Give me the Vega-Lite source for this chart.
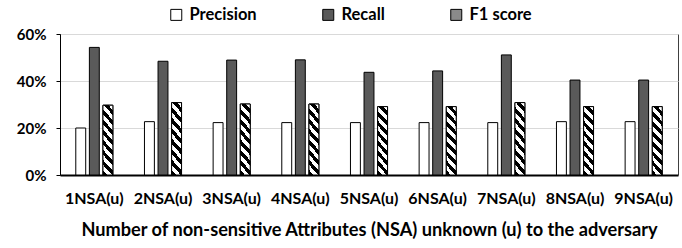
{
  "$schema": "https://vega.github.io/schema/vega-lite/v6.json",
  "width": 618,
  "height": 141,
  "autosize": {"type": "none"},
  "padding": {"left": 60, "top": 34, "right": 4, "bottom": 73},
  "config": {"font": "Lato", "view": {"stroke": "#404040", "strokeWidth": 1}},
  "data": {
    "values": [
      {"group": "1NSA(u)", "metric": "Precision", "value": 0.200},
      {"group": "1NSA(u)", "metric": "Recall", "value": 0.543},
      {"group": "1NSA(u)", "metric": "F1 score", "value": 0.297},
      {"group": "2NSA(u)", "metric": "Precision", "value": 0.227},
      {"group": "2NSA(u)", "metric": "Recall", "value": 0.484},
      {"group": "2NSA(u)", "metric": "F1 score", "value": 0.308},
      {"group": "3NSA(u)", "metric": "Precision", "value": 0.223},
      {"group": "3NSA(u)", "metric": "Recall", "value": 0.489},
      {"group": "3NSA(u)", "metric": "F1 score", "value": 0.302},
      {"group": "4NSA(u)", "metric": "Precision", "value": 0.223},
      {"group": "4NSA(u)", "metric": "Recall", "value": 0.490},
      {"group": "4NSA(u)", "metric": "F1 score", "value": 0.302},
      {"group": "5NSA(u)", "metric": "Precision", "value": 0.223},
      {"group": "5NSA(u)", "metric": "Recall", "value": 0.437},
      {"group": "5NSA(u)", "metric": "F1 score", "value": 0.291},
      {"group": "6NSA(u)", "metric": "Precision", "value": 0.223},
      {"group": "6NSA(u)", "metric": "Recall", "value": 0.443},
      {"group": "6NSA(u)", "metric": "F1 score", "value": 0.291},
      {"group": "7NSA(u)", "metric": "Precision", "value": 0.223},
      {"group": "7NSA(u)", "metric": "Recall", "value": 0.511},
      {"group": "7NSA(u)", "metric": "F1 score", "value": 0.308},
      {"group": "8NSA(u)", "metric": "Precision", "value": 0.227},
      {"group": "8NSA(u)", "metric": "Recall", "value": 0.404},
      {"group": "8NSA(u)", "metric": "F1 score", "value": 0.291},
      {"group": "9NSA(u)", "metric": "Precision", "value": 0.227},
      {"group": "9NSA(u)", "metric": "Recall", "value": 0.404},
      {"group": "9NSA(u)", "metric": "F1 score", "value": 0.291}
    ]
  },
  "encoding": {
    "x": {
      "field": "group",
      "type": "nominal",
      "sort": null,
      "scale": {"paddingInner": 0.46, "paddingOuter": 0.23},
      "axis": {
        "title": "Number of non-sensitive Attributes (NSA) unknown (u) to the adversary",
        "titleFontSize": 18.2,
        "titleFontWeight": "bold",
        "titleColor": "#000000",
        "titlePadding": 15,
        "labelAngle": 0,
        "labelFontSize": 16,
        "labelFontWeight": "bold",
        "labelColor": "#000000",
        "labelPadding": 15,
        "ticks": false,
        "domainColor": "#000000",
        "domainWidth": 2
      }
    },
    "xOffset": {
      "field": "metric",
      "type": "nominal",
      "sort": ["Precision", "Recall", "F1 score"],
      "scale": {"domain": ["Precision", "Recall", "F1 score"], "paddingInner": 0.27, "paddingOuter": 0}
    },
    "y": {
      "field": "value",
      "type": "quantitative",
      "scale": {"domain": [0, 0.6]},
      "axis": {
        "title": null,
        "format": ".0%",
        "values": [0, 0.2, 0.4, 0.6],
        "grid": true,
        "gridColor": "#d9d9d9",
        "gridWidth": 1,
        "ticks": true,
        "tickSize": 4,
        "tickColor": "#000000",
        "domainColor": "#000000",
        "labelFontSize": 15,
        "labelFontWeight": "bold",
        "labelColor": "#000000",
        "labelPadding": 10
      }
    }
  },
  "layer": [
    {
      "mark": {"type": "bar", "stroke": "black", "strokeWidth": 1},
      "encoding": {
        "fill": {
          "field": "metric",
          "type": "nominal",
          "sort": ["Precision", "Recall", "F1 score"],
          "scale": {
            "domain": ["Precision", "Recall", "F1 score"],
            "range": ["#ffffff", "#5a5a5a", "#8a8a8a"]
          },
          "legend": {
            "title": null,
            "orient": "none",
            "legendX": 108,
            "legendY": -27.5,
            "direction": "horizontal",
            "columnPadding": 63,
            "symbolType": "square",
            "symbolSize": 121,
            "symbolStrokeColor": "#000000",
            "symbolStrokeWidth": 1,
            "labelFontSize": 16.5,
            "labelFontWeight": "bold",
            "labelColor": "#000000",
            "labelOffset": 5,
            "encode": {
              "symbols": {
                "update": {
                  "stroke": {"value": "#000000"},
                  "strokeWidth": {"value": 1},
                  "opacity": {"value": 1},
                  "fillOpacity": {"value": 1},
                  "fill": {
                    "condition": {
                      "test": "datum.label === 'F1 score'",
                      "value": {
                        "gradient": "linear",
                        "x1": 0, "y1": 1, "x2": 1, "y2": 0,
                        "stops": [
                          {"offset": 0, "color": "#000000"},
                          {"offset": 0.17, "color": "#000000"},
                          {"offset": 0.17, "color": "#ffffff"},
                          {"offset": 0.37, "color": "#ffffff"},
                          {"offset": 0.37, "color": "#000000"},
                          {"offset": 0.63, "color": "#000000"},
                          {"offset": 0.63, "color": "#ffffff"},
                          {"offset": 0.83, "color": "#ffffff"},
                          {"offset": 0.83, "color": "#000000"},
                          {"offset": 1, "color": "#000000"}
                        ]
                      }
                    },
                    "value": {"expr": "datum.label === 'Recall' ? '#5a5a5a' : '#ffffff'"}
                  }
                }
              }
            }
          }
        }
      }
    },
    {
      "transform": [{"filter": "datum.metric === 'F1 score'"}],
      "mark": {
        "type": "bar",
        "stroke": "black",
        "strokeWidth": 1,
        "fill": {
          "gradient": "linear",
          "x1": 0, "y1": 1, "x2": 0.178, "y2": -0.131,
          "stops": [
            {"offset": 0, "color": "#000000"},
            {"offset": 0.0625, "color": "#000000"},
            {"offset": 0.0625, "color": "#ffffff"},
            {"offset": 0.125, "color": "#ffffff"},
            {"offset": 0.125, "color": "#000000"},
            {"offset": 0.1875, "color": "#000000"},
            {"offset": 0.1875, "color": "#ffffff"},
            {"offset": 0.25, "color": "#ffffff"},
            {"offset": 0.25, "color": "#000000"},
            {"offset": 0.3125, "color": "#000000"},
            {"offset": 0.3125, "color": "#ffffff"},
            {"offset": 0.375, "color": "#ffffff"},
            {"offset": 0.375, "color": "#000000"},
            {"offset": 0.4375, "color": "#000000"},
            {"offset": 0.4375, "color": "#ffffff"},
            {"offset": 0.5, "color": "#ffffff"},
            {"offset": 0.5, "color": "#000000"},
            {"offset": 0.5625, "color": "#000000"},
            {"offset": 0.5625, "color": "#ffffff"},
            {"offset": 0.625, "color": "#ffffff"},
            {"offset": 0.625, "color": "#000000"},
            {"offset": 0.6875, "color": "#000000"},
            {"offset": 0.6875, "color": "#ffffff"},
            {"offset": 0.75, "color": "#ffffff"},
            {"offset": 0.75, "color": "#000000"},
            {"offset": 0.8125, "color": "#000000"},
            {"offset": 0.8125, "color": "#ffffff"},
            {"offset": 0.875, "color": "#ffffff"},
            {"offset": 0.875, "color": "#000000"},
            {"offset": 0.9375, "color": "#000000"},
            {"offset": 0.9375, "color": "#ffffff"},
            {"offset": 1, "color": "#ffffff"}
          ]
        }
      }
    }
  ]
}
